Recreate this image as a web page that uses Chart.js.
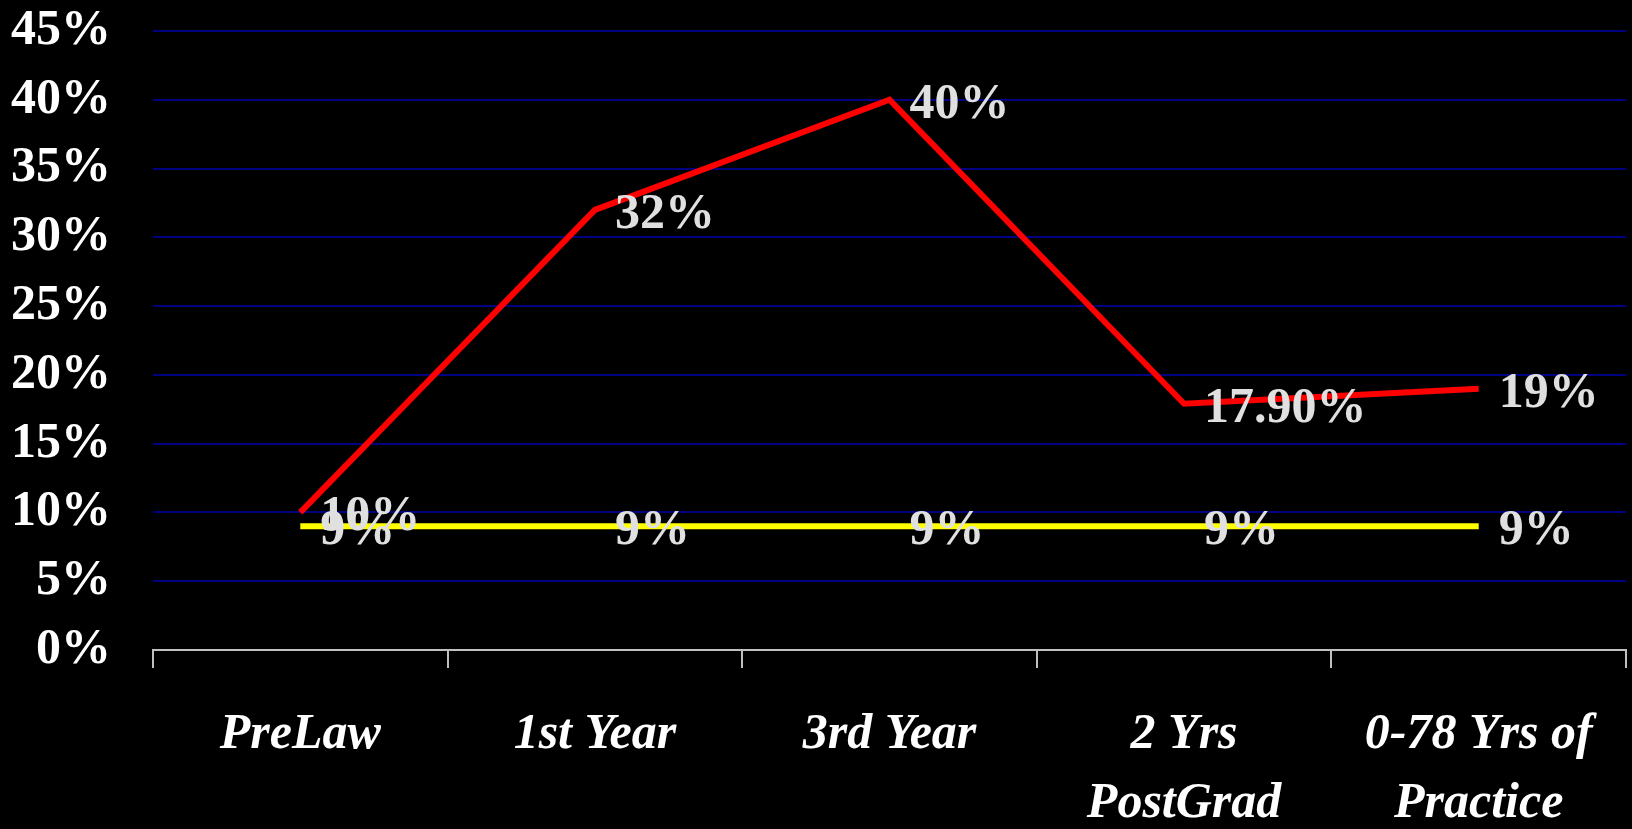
<!DOCTYPE html>
<html>
<head>
<meta charset="utf-8">
<script src="https://cdn.jsdelivr.net/npm/chart.js@4/dist/chart.umd.min.js"></script>
<style>
  html, body { margin: 0; padding: 0; background: #000; overflow: hidden; }
  .container { width: 1632px; height: 829px; }
</style>
</head>
<body>
<div class="container"><canvas id="stage-chart" width="1632" height="829"></canvas></div>
<script>
// categories along the bottom
const stages = ["PreLaw", "1st Year", "3rd Year", ["2 Yrs", "PostGrad"], ["0-78 Yrs of", "Practice"]];
// red series
const redValues = [10, 32, 40, 17.9, 19];
const redLabels = ["10%", "32%", "40%", "17.90%", "19%"];
// yellow series
const yellowValues = [9, 9, 9, 9, 9];
const yellowLabels = ["9%", "9%", "9%", "9%", "9%"];
// y axis
const yMin = 0;
const yMax = 45;
const yStep = 5;

const serif = "'Liberation Serif', 'Times New Roman', serif";

//draw the value text right of each point
const pointLabels = {
    id: "pointLabels",
    afterDatasetsDraw(chart){
        const ctx = chart.ctx;
        ctx.save();
        ctx.font = "bold 50px " + serif;
        ctx.fillStyle = "#e0e0e0";
        ctx.textAlign = "left";
        ctx.textBaseline = "middle";
        chart.data.datasets.forEach((ds, i) => {
            const meta = chart.getDatasetMeta(i);
            meta.data.forEach((pt, j) => {
                ctx.fillText(ds.valueText[j], pt.x + 20, pt.y + 5);
            });
        });
        ctx.restore();
    }
};

let chart = document.getElementById("stage-chart");
new Chart(chart, {
    type: "line",
    data: {
        labels: stages,
        datasets: [
            {
                label: "red",
                data: redValues,
                valueText: redLabels,
                borderColor: "#ff0000",
                borderWidth: 6,
                pointRadius: 0,
                tension: 0
            },
            {
                label: "yellow",
                data: yellowValues,
                valueText: yellowLabels,
                borderColor: "#ffff00",
                borderWidth: 6,
                pointRadius: 0,
                tension: 0
            }
        ]
    },
    options: {
        responsive: false,
        animation: false,
        layout: {padding: {top: 31, right: 6, left: 0, bottom: 0}},
        plugins: {legend: {display: false}, tooltip: {enabled: false}},
        scales: {
            x: {
                offset: true,
                afterFit(scale){ scale.height = 179; },
                grid: {
                    offset: true,
                    drawOnChartArea: false,
                    color: "#c0c0c0",
                    lineWidth: 2,
                    tickLength: 18
                },
                border: {color: "#c0c0c0", width: 2},
                ticks: {
                    color: "#ffffff",
                    padding: 33,
                    maxRotation: 0,
                    autoSkip: false,
                    font: {family: serif, size: 50, weight: "bold", style: "italic", lineHeight: 1.38}
                }
            },
            y: {
                min: yMin,
                max: yMax,
                afterFit(scale){
                    scale.width = 153;
                    scale.paddingTop = 0;
                    scale.paddingBottom = 0;
                },
                grid: {color: "#000080", lineWidth: 2, drawTicks: false},
                border: {display: false},
                ticks: {
                    stepSize: yStep,
                    color: "#ffffff",
                    padding: 42,
                    font: {family: serif, size: 50, weight: "bold"},
                    callback: (v) => v + "%"
                }
            }
        }
    },
    plugins: [pointLabels]
});
</script>
</body>
</html>
